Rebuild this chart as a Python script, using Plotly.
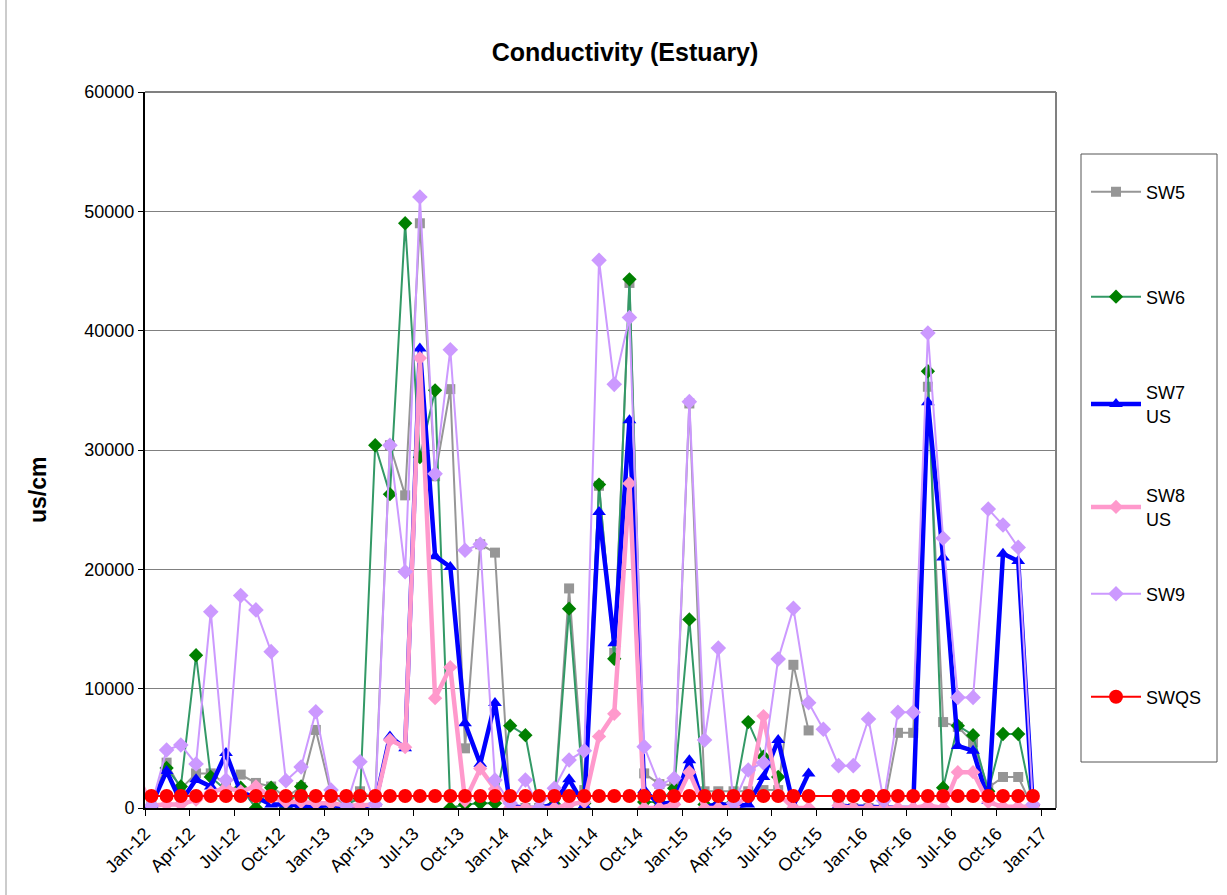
import pandas as pd
import plotly.graph_objects as go

# Monthly sampling dates (mid-month), Jan 2012 - Dec 2016
dates = list(pd.date_range("2012-01-01", periods=60, freq="MS") + pd.Timedelta(days=13))
dates_sw8 = [pd.Timestamp("2011-12-14")] + dates

N = None
sw5 = [300, 3800, 1600, 2900, 2900, 2000, 2800, 2100, 1800, 900, 1750, 6540,
       1200, 100, 1400, 800, 30400, 26200, 49000, 27800, 35100, 5000, 22100, 21400,
       0, 0, 0, 500, 18400, 1500, 27000, 13000, 44000, 2900, 2000, 1900,
       33900, 1400, 1400, 1400, 1400, 1500, 1500, 12000, 6500, N, 300, 0,
       0, 0, 6300, 6300, 35300, 7200, 6800, 5500, 1700, 2600, 2600, 0]
sw6 = [0, 3350, 1800, 12800, 2600, 1500, 1700, 0, 1700, 0, 1800, 0,
       300, 300, 800, 30400, 26300, 49000, 29400, 35000, 0, 300, 400, 400,
       6900, 6100, 0, 300, 16700, 400, 27100, 12500, 44300, 500, 500, 1650,
       15800, 300, 300, 500, 7200, 4300, 2600, N, N, N, N, N,
       N, N, N, N, 36600, 1700, 6900, 6100, 1400, 6200, 6200, 200]
sw7 = [250, 3100, 500, 2400, 1800, 4600, 1300, 900, 300, 300, 200, 100,
       300, 0, 0, 400, 6000, 5000, 38500, 21100, 20200, 7100, 3700, 8800,
       200, 0, 0, 300, 2400, 200, 24800, 13800, 32500, 1500, 300, 500,
       4000, 0, 400, 100, 300, 2600, 5700, 200, 2900, N, 200, 100,
       100, 0, 0, 0, 34000, 21000, 5200, 4800, 600, 21300, 20700, 0]
sw8 = [3000,
       200, 300, 300, 700, 1300, 1700, 1400, 1800, 900, 500, 500, 400,
       400, 200, 200, 300, 5700, 5100, 37700, 9200, 11800, 600, 3300, 1600,
       0, 0, 0, 0, 300, 500, 6000, 7900, 27200, 0, 0, 300,
       3000, 0, 0, 100, 1000, 7700, 1200, 0, 0, N, 200, 0,
       0, 0, 0, 0, 200, 0, 3000, 3000, 500, 100, 100, 100]
sw9 = [200, 4860, 5280, 3690, 16450, 2350, 17800, 16600, 13100, 2290, 3440, 8070,
       1500, 200, 3880, 300, 30400, 19800, 51200, 28000, 38400, 21600, 22100, 2350,
       400, 2350, 0, 1650, 4020, 4800, 45900, 35500, 41100, 5140, 1930, 2490,
       34050, 5700, 13400, 400, 3180, 3800, 12480, 16730, 8830, 6600, 3550, 3550,
       7460, 600, 8020, 8020, 39800, 22600, 9270, 9270, 25050, 23710, 21840, 300]
swqs = [1000] * 45 + [N] + [1000] * 14

FONT = "Arial, Liberation Sans, sans-serif"

L, R, T, B = 145, 1056, 92, 808
W, H = 1227, 895


def px_x(x):
    return (x - L) / (R - L)


def px_y(y):
    return (B - y) / (B - T)


fig = go.Figure()

# name, x, y, line colour, line width, symbol, marker size, marker colour,
# connect gaps, legend id, legend item centre (px from top)
series = [
    ("SW5", dates, sw5, "#969696", 2, "square", 10, "#969696", False, "legend", 192),
    ("SW6", dates, sw6, "#339966", 2, "diamond", 11, "#008000", False, "legend2", 297),
    ("SW7<br>US", dates, sw7, "#0000FF", 4.5, "triangle-up", 12, "#0000FF", False, "legend3", 404),
    ("SW8<br>US", dates_sw8, sw8, "#FF99CC", 4.5, "diamond", 11, "#FF99CC", False, "legend4", 507),
    ("SW9", dates, sw9, "#CC99FF", 2, "diamond", 12, "#CC99FF", False, "legend5", 594),
    ("SWQS", dates, swqs, "#FF0000", 2, "circle", 14, "#FF0000", True, "legend6", 697),
]
legends = {}
for name, x, y, lc, lw, sym, ms, mc, gaps, lg, ly in series:
    fig.add_trace(go.Scatter(
        x=x, y=y, name=name, legend=lg, mode="lines+markers",
        line=dict(color=lc, width=lw),
        marker=dict(symbol=sym, size=ms, color=mc, line=dict(width=0)),
        connectgaps=gaps,
    ))
    legends[lg] = dict(
        x=px_x(1086), y=px_y(ly), xanchor="left", yanchor="middle",
        borderwidth=0, bgcolor="rgba(0,0,0,0)",
        font=dict(family=FONT, size=18, color="black"),
        itemwidth=50,
    )

fig.update_layout(
    width=W, height=H,
    margin=dict(l=L, r=W - R, t=T, b=H - B, pad=0),
    paper_bgcolor="white", plot_bgcolor="white",
    font=dict(family=FONT, size=18, color="black"),
    title=dict(text="<b>Conductivity (Estuary)</b>", x=625 / W, xref="container",
               y=1 - 52 / H, yref="container", xanchor="center", yanchor="middle",
               font=dict(family=FONT, size=25, color="black")),
    showlegend=True,
    xaxis=dict(
        type="date",
        range=["2012-01-01", "2017-01-30"],
        tick0="2012-01-01", dtick="M3", tickformat="%b-%y",
        tickangle=-45, ticks="outside", ticklen=6, tickcolor="black",
        showline=True, linecolor="black", linewidth=2,
        showgrid=False, zeroline=False,
        tickfont=dict(family=FONT, size=18, color="black"),
    ),
    yaxis=dict(
        range=[0, 60000], dtick=10000, tickformat="d",
        ticks="outside", ticklen=5, tickcolor="black",
        showline=True, linecolor="black", linewidth=2,
        showgrid=True, gridcolor="#808080", gridwidth=1, zeroline=False,
        tickfont=dict(family=FONT, size=18, color="black"),
    ),
    **legends,
)

# Y axis title
fig.add_annotation(text="<b>us/cm</b>", xref="paper", yref="paper",
                   x=px_x(38), y=px_y(490), textangle=-90, showarrow=False,
                   xanchor="center", yanchor="middle",
                   font=dict(family=FONT, size=23, color="black"))

# Gray frame on the top and right of the plotting area
fig.add_shape(type="line", xref="paper", yref="paper", x0=0, x1=1, y0=1, y1=1,
              line=dict(color="#808080", width=2))
fig.add_shape(type="line", xref="paper", yref="paper", x0=1, x1=1, y0=0, y1=1,
              line=dict(color="#808080", width=2))
# Legend box
fig.add_shape(type="rect", xref="paper", yref="paper",
              x0=px_x(1081), x1=px_x(1217), y0=px_y(762), y1=px_y(154),
              line=dict(color="#555555", width=1), fillcolor="rgba(0,0,0,0)", layer="below")
# Chart area edge
fig.add_shape(type="line", xref="paper", yref="paper",
              x0=px_x(6), x1=px_x(6), y0=px_y(H), y1=px_y(0),
              line=dict(color="#999999", width=1))

fig.write_html("out.html")
